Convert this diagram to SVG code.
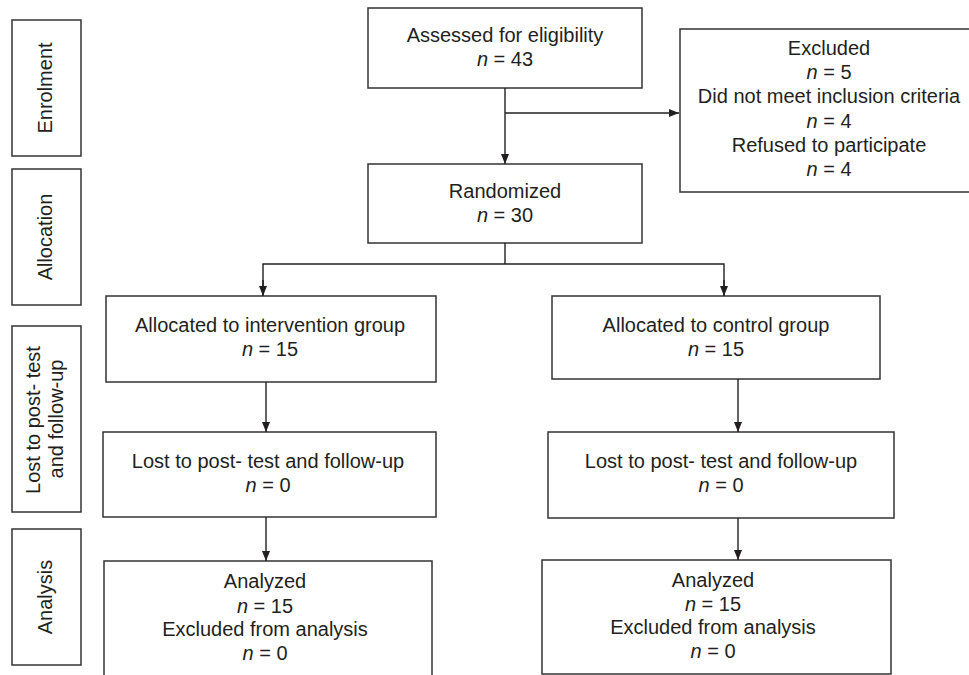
<svg xmlns="http://www.w3.org/2000/svg" width="969" height="675" viewBox="0 0 969 675">
<defs>
<marker id="ah" markerWidth="10" markerHeight="10" refX="10" refY="5" orient="auto" markerUnits="userSpaceOnUse">
<path d="M0,1 L10,5 L0,9 Z" fill="#231f20"/>
</marker>
<style>
.box{fill:#fff;stroke:#333;stroke-width:1.5}
.t{font-family:"Liberation Sans",Arial,sans-serif;font-size:20px;fill:#231f20;text-anchor:middle}
.conn line,.conn polyline{stroke:#231f20;stroke-width:1.4;fill:none}
</style>
</defs>
<rect width="969" height="675" fill="#fff"/>

<g id="stage-enrolment">
<rect class="box" x="12" y="20" width="69" height="136"/>
<text class="t" transform="translate(52,88) rotate(-90)">Enrolment</text>
</g>
<g id="stage-allocation">
<rect class="box" x="12" y="169" width="69" height="136"/>
<text class="t" transform="translate(52,237) rotate(-90)">Allocation</text>
</g>
<g id="stage-lost">
<rect class="box" x="12" y="326" width="69" height="186"/>
<text class="t" transform="translate(40,420) rotate(-90)">Lost to post- test</text>
<text class="t" transform="translate(63,419) rotate(-90)">and follow-up</text>
</g>
<g id="stage-analysis">
<rect class="box" x="12" y="529" width="69" height="136"/>
<text class="t" transform="translate(52,597) rotate(-90)">Analysis</text>
</g>

<g id="assessed">
<rect class="box" x="368" y="8" width="274" height="80"/>
<text class="t" x="505" y="42">Assessed for eligibility</text>
<text class="t" x="505" y="66"><tspan font-style="italic">n</tspan> = 43</text>
</g>
<g id="excluded">
<rect class="box" x="680" y="29" width="295" height="163"/>
<text class="t" x="829" y="55">Excluded</text>
<text class="t" x="829" y="79"><tspan font-style="italic">n</tspan> = 5</text>
<text class="t" x="829" y="103">Did not meet inclusion criteria</text>
<text class="t" x="829" y="128"><tspan font-style="italic">n</tspan> = 4</text>
<text class="t" x="829" y="152">Refused to participate</text>
<text class="t" x="829" y="176"><tspan font-style="italic">n</tspan> = 4</text>
</g>
<g id="randomized">
<rect class="box" x="368" y="164" width="274" height="79"/>
<text class="t" x="505" y="198">Randomized</text>
<text class="t" x="505" y="222"><tspan font-style="italic">n</tspan> = 30</text>
</g>
<g id="alloc-intervention">
<rect class="box" x="106" y="296" width="330" height="86"/>
<text class="t" x="270" y="332">Allocated to intervention group</text>
<text class="t" x="270" y="356"><tspan font-style="italic">n</tspan> = 15</text>
</g>
<g id="alloc-control">
<rect class="box" x="552" y="296" width="328" height="83"/>
<text class="t" x="716" y="332">Allocated to control group</text>
<text class="t" x="716" y="356"><tspan font-style="italic">n</tspan> = 15</text>
</g>
<g id="lost-intervention">
<rect class="box" x="103" y="432" width="333" height="85"/>
<text class="t" x="268" y="468">Lost to post- test and follow-up</text>
<text class="t" x="268" y="492"><tspan font-style="italic">n</tspan> = 0</text>
</g>
<g id="lost-control">
<rect class="box" x="548" y="432" width="346" height="86"/>
<text class="t" x="721" y="468">Lost to post- test and follow-up</text>
<text class="t" x="721" y="492"><tspan font-style="italic">n</tspan> = 0</text>
</g>
<g id="analysis-intervention">
<rect class="box" x="104" y="561" width="328" height="130"/>
<text class="t" x="265" y="588">Analyzed</text>
<text class="t" x="265" y="613"><tspan font-style="italic">n</tspan> = 15</text>
<text class="t" x="265" y="636">Excluded from analysis</text>
<text class="t" x="265" y="660"><tspan font-style="italic">n</tspan> = 0</text>
</g>
<g id="analysis-control">
<rect class="box" x="542" y="560" width="349" height="114"/>
<text class="t" x="713" y="587">Analyzed</text>
<text class="t" x="713" y="611"><tspan font-style="italic">n</tspan> = 15</text>
<text class="t" x="713" y="634">Excluded from analysis</text>
<text class="t" x="713" y="658"><tspan font-style="italic">n</tspan> = 0</text>
</g>

<g id="connectors" class="conn">
<line x1="505" y1="88" x2="505" y2="164" marker-end="url(#ah)"/>
<line x1="505" y1="113" x2="679" y2="113" marker-end="url(#ah)"/>
<line x1="505" y1="243" x2="505" y2="264"/>
<polyline points="263,295 263,264 724,264 724,295"/>
<line x1="263" y1="280" x2="263" y2="296" marker-end="url(#ah)"/>
<line x1="724" y1="280" x2="724" y2="296" marker-end="url(#ah)"/>
<line x1="266" y1="382" x2="266" y2="432" marker-end="url(#ah)"/>
<line x1="738" y1="379" x2="738" y2="432" marker-end="url(#ah)"/>
<line x1="266" y1="517" x2="266" y2="561" marker-end="url(#ah)"/>
<line x1="738" y1="518" x2="738" y2="560" marker-end="url(#ah)"/>
</g>
</svg>
